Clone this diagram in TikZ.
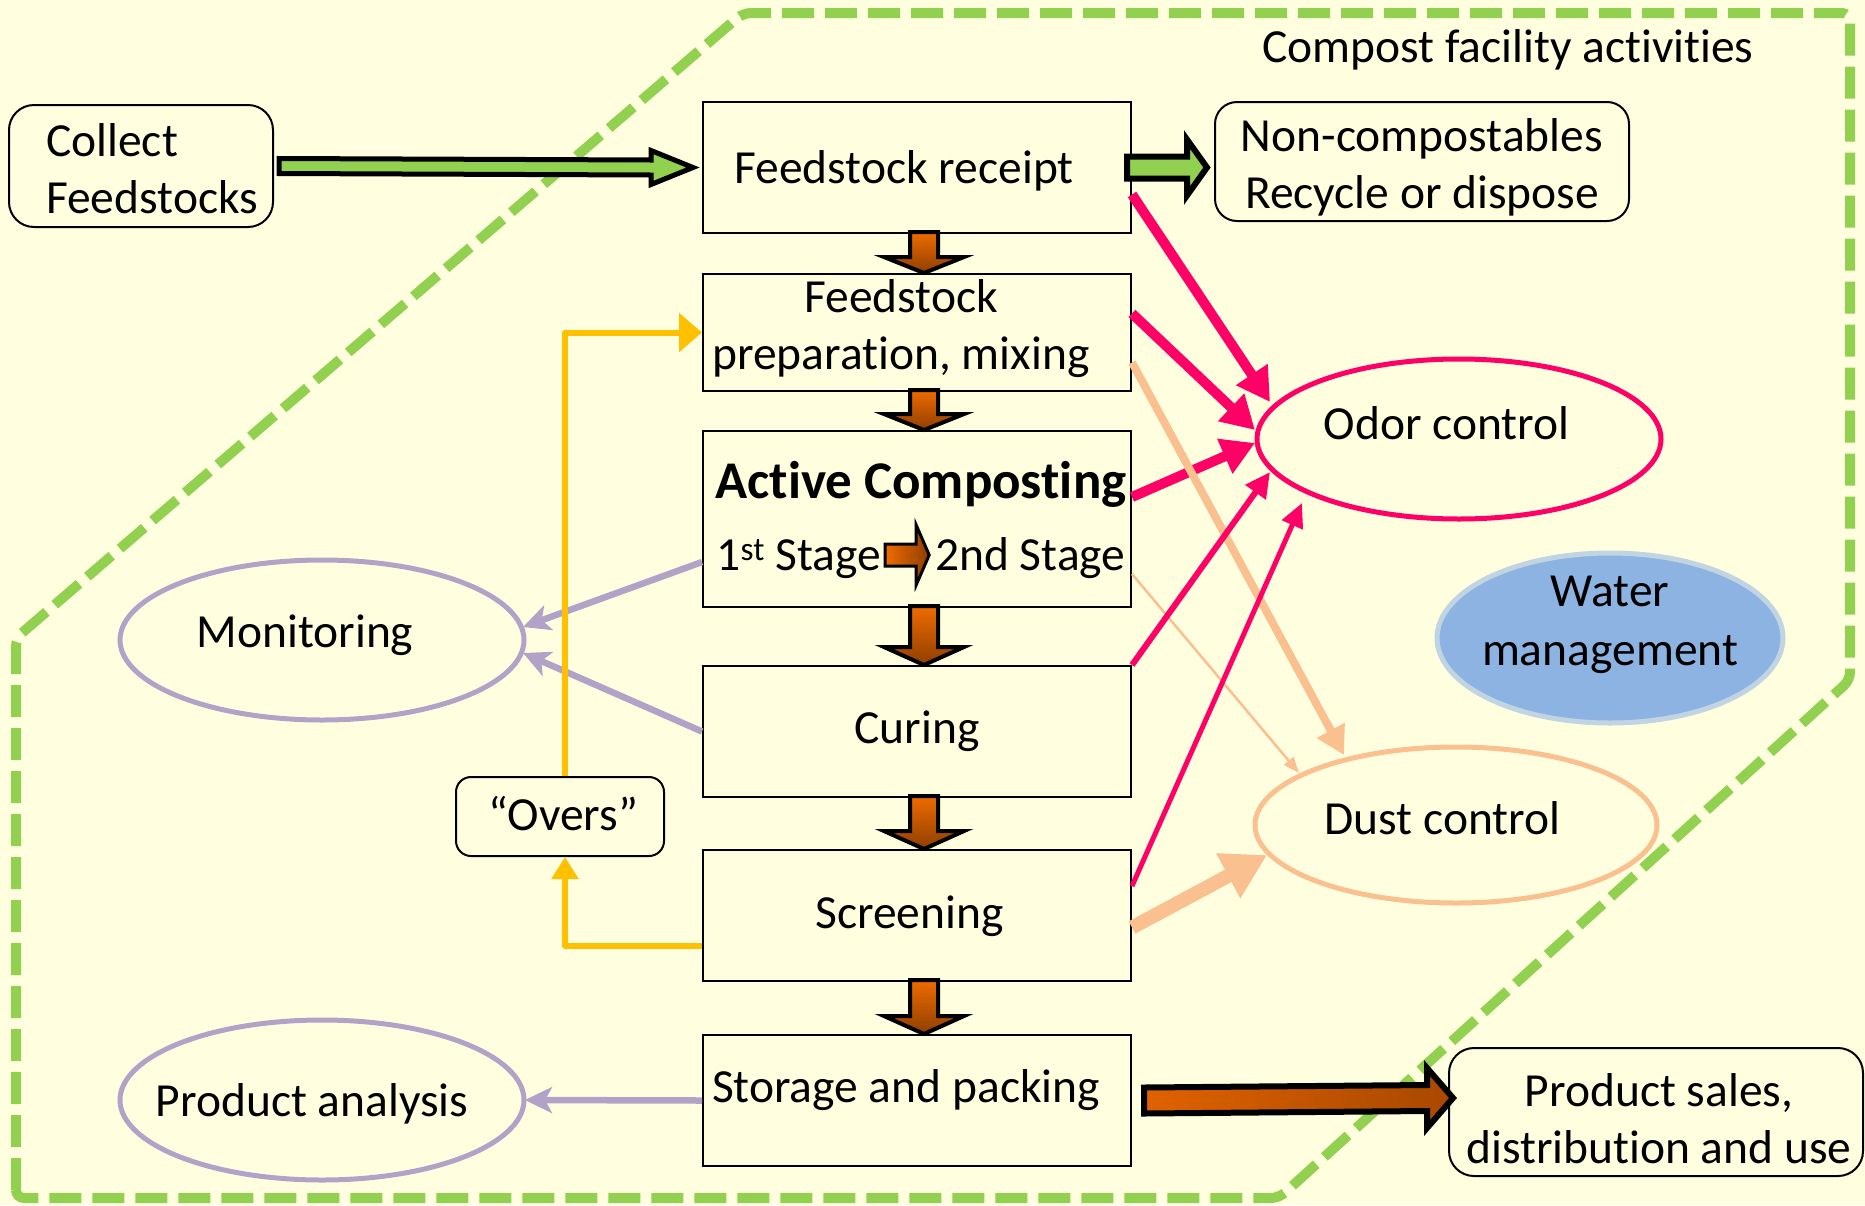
\documentclass[tikz,border=0pt]{standalone}
\usepackage{fontspec}
\setmainfont{Carlito}[Ligatures={TeX,NoCommon}]
\usetikzlibrary{arrows.meta,shapes.geometric,calc}
\definecolor{bgc}{HTML}{FFFFE0}
\definecolor{brd}{HTML}{92D050}
\definecolor{pinkc}{HTML}{FF0066}
\definecolor{peach}{HTML}{FAC090}
\definecolor{purp}{HTML}{B3A2C7}
\definecolor{yel}{HTML}{FFC000}
\definecolor{waterc}{HTML}{8DB3E2}
\definecolor{orgA}{HTML}{EE6C00}
\definecolor{orgB}{HTML}{8F3E00}
\definecolor{brA}{HTML}{E06200}
\definecolor{brB}{HTML}{A84800}
\definecolor{grn}{HTML}{92D050}
% text placed inside a zero-size box: #1 = twice the x shift, #2 = raise of last baseline
\newcommand\mtxt[3]{\makebox[0pt]{\hspace*{#1}\raisebox{#2}[0pt][0pt]{\begin{tabular}[b]{@{}c@{}}#3\end{tabular}}}}
\newcommand\ltxt[3]{\makebox[0pt]{\hspace*{#1}\raisebox{#2}[0pt][0pt]{\begin{tabular}[b]{@{}l@{}}#3\end{tabular}}}}
\newcommand\vblock[3]{%
  \path[blockarrow] let \p1=($(#1.south)+(7,0)$), \p2=(#2.north) in
    (\x1-14pt,\y1+2pt) -- (\x1+14pt,\y1+2pt) -- (\x1+14pt,\y2+#3) -- (\x1+40pt,\y2+#3)
    -- (\x1,\y2) -- (\x1-40pt,\y2+#3) -- (\x1-14pt,\y2+#3) -- cycle;}
\newcommand\hblock[6]{%
  \path[#1] let \p1=(#2), \p2=(#3) in
    (\x1,\y1+#4) -- (\x2-#6,\y2+#4) -- (\x2-#6,\y2+#5) -- (\x2,\y2)
    -- (\x2-#6,\y2-#5) -- (\x2-#6,\y2-#4) -- (\x1,\y1-#4) -- cycle;}
\newcommand\stagearrow{\tikz[baseline=0pt]{\useasboundingbox (0pt,-5pt) rectangle (44pt,30pt);
  \path[draw=black, line width=3pt, left color=orgA, right color=orgB, line join=miter]
   (0pt,4pt) -- (31pt,4pt) -- (31pt,-15pt) -- (44pt,15pt) -- (31pt,45pt) -- (31pt,26pt) -- (0pt,26pt) -- cycle;}}
\tikzset{
  procbox/.style={draw=black, line width=2pt, minimum width=428pt, inner sep=0pt},
  rbox/.style={draw=black, line width=2pt, inner sep=0pt},
  ovalnode/.style={ellipse, line width=5pt, inner sep=0pt, minimum width=404pt, minimum height=160pt},
  blockarrow/.style={draw=black, line width=4pt, top color=orgA, bottom color=orgB, line join=miter},
  greenarrow/.style={draw=black, line width=5pt, fill=grn, line join=miter},
  greenarrowb/.style={draw=black, line width=6pt, fill=grn, line join=miter},
  brownarrow/.style={draw=black, line width=6pt, left color=brA, right color=brB, line join=miter},
  facility/.style={draw=brd, line width=10pt, dash pattern=on 32pt off 11pt, rounded corners=8pt},
  pinkline/.style={draw=pinkc, line cap=butt},
  peachline/.style={draw=peach, line cap=butt},
  purpline/.style={draw=purp, line width=6.5pt, -{Stealth[length=27pt,width=26pt,inset=7pt]}},
  yelline/.style={draw=yel, line width=6pt, line join=round}
}
\begin{document}
\begin{tikzpicture}[x=1pt,y=-1pt,font=\fontsize{47.5}{57}\selectfont]
\useasboundingbox (0,0) rectangle (1865,1205);
\fill[bgc] (0,0) rectangle (1865,1205);
\draw[facility] (16,1198) -- (16,638) -- (743,13) -- (1850,13) -- (1850,680) -- (1279,1198) -- cycle;
\node[anchor=base] (title) at (1508,62) {Compost facility activities};

% process boxes
\node[procbox, minimum height=131pt] (recv) at (917,167.5) {\mtxt{-26pt}{-15.5pt}{Feedstock receipt}};
\node[procbox, minimum height=117pt] (prep) at (917,332.5) {\mtxt{-32pt}{-36.5pt}{Feedstock\\preparation, mixing}};
\node[procbox, minimum height=176pt] (active) at (917,519) {\mtxt{8pt}{-51pt}{{\fontsize{53}{57}\selectfont\bfseries Active Composting}\\[15pt]1\textsuperscript{st} Stage\hspace{4pt}\stagearrow\hspace{6pt}2nd Stage}};
\node[procbox, minimum height=131pt] (curing) at (917,731.5) {\mtxt{0pt}{-11.5pt}{Curing}};
\node[procbox, minimum height=131pt] (screen) at (917,915.5) {\mtxt{-15pt}{-12.5pt}{Screening}};
\node[procbox, minimum height=131pt] (storage) at (917,1100.5) {\mtxt{-22pt}{-1.5pt}{Storage and packing}};

% rounded boxes
\node[rbox, rounded corners=25pt, minimum width=264pt, minimum height=122pt] (collect) at (141,166) {\ltxt{22pt}{-47pt}{Collect\\Feedstocks}};
\node[rbox, rounded corners=22pt, minimum width=414pt, minimum height=119pt] (noncomp) at (1422,161.5) {\mtxt{0pt}{-46.5pt}{Non-compostables\\Recycle or dispose}};
\node[rbox, rounded corners=25pt, minimum width=414pt, minimum height=128pt] (sales) at (1656,1112) {\mtxt{6pt}{-51pt}{Product sales,\\distribution and use}};
\node[rbox, rounded corners=15pt, minimum width=208pt, minimum height=79pt] (overs) at (560,816.5) {\mtxt{6pt}{-13.5pt}{“Overs”}};

% ellipses
\node[ovalnode, draw=purp] (monitor) at (322,640) {\mtxt{-34pt}{-7pt}{Monitoring}};
\node[ovalnode, draw=purp] (panalysis) at (322,1100) {\mtxt{-20pt}{-16pt}{Product analysis}};
\node[ovalnode, draw=pinkc] (odor) at (1459,439) {\mtxt{-25pt}{0pt}{Odor control}};
\node[ovalnode, draw=peach, minimum width=402pt, minimum height=156pt] (dust) at (1456,825) {\mtxt{-27pt}{-9pt}{Dust control}};
\node[ovalnode, fill=waterc, draw=waterc!55!bgc, minimum width=346pt, minimum height=170pt] (water) at (1610,638) {\mtxt{0pt}{-27pt}{Water\\[2pt]management}};

% odor arrows
\draw[pinkline, line width=10pt, -{Triangle[length=33pt,width=36pt]}] ($(recv.east)+(0,27)$) -- ($(odor.center)+(-189,-37)$);
\draw[pinkline, line width=10pt, -{Triangle[length=33pt,width=36pt]}] ($(prep.east)+(0,-19)$) -- ($(odor.center)+(-204,-9)$);
\draw[pinkline, line width=10pt, -{Triangle[length=33pt,width=36pt]}] ($(active.east)+(0,-22)$) -- ($(odor.center)+(-204,4)$);
% dust arrows
\draw[peachline, line width=8pt, -{Triangle[length=28pt,width=30pt]}] ($(prep.east)+(0,30)$) -- ($(dust.center)+(-112,-70)$);
\draw[peachline, line width=2.5pt, -{Triangle[length=16pt,width=12pt]}] ($(active.east)+(0,55)$) -- ($(dust.center)+(-157,-52)$);
\draw[pinkline, line width=6pt, -{Triangle[length=25pt,width=24pt]}] (curing.north east) -- ($(odor.center)+(-189,33)$);
\draw[pinkline, line width=5pt, -{Triangle[length=24pt,width=22pt]}] ($(screen.north east)+(0,37)$) -- ($(odor.center)+(-157,64)$);
\draw[peachline, line width=14pt, -{Triangle[length=44pt,width=48pt]}] ($(screen.east)+(0,12)$) -- ($(dust.center)+(-189,30)$);

% monitoring / analysis
\draw[purpline] ($(active.west)+(0,43)$) -- ($(monitor.center)+(201,-13)$);
\draw[purpline] (curing.west) -- ($(monitor.center)+(201,13)$);
\draw[purpline] (storage.west) -- ($(panalysis.center)+(203,0)$);

% overs loop
\draw[yelline, -{Triangle[length=22pt,width=26pt]}] ($(screen.west)+(0,30)$) -| ($(overs.south)+(5,0)$);
\draw[yelline, -{Triangle[length=23pt,width=38pt]}] ($(overs.north)+(5,0)$) |- (prep.west);

% block arrows
\vblock{recv}{prep}{16pt}
\vblock{prep}{active}{16pt}
\vblock{active}{curing}{18pt}
\vblock{curing}{screen}{18pt}
\vblock{screen}{storage}{18pt}
\hblock{greenarrow}{$(collect.east)+(5,0)$}{$(recv.west)+(-9,0)$}{7.5pt}{17pt}{42pt}
\hblock{greenarrowb}{$(recv.east)+(-5,0)$}{$(noncomp.west |- recv.east)+(-7,0)$}{11pt}{28pt}{20pt}
\hblock{brownarrow}{$(storage.east)+(12,0)$}{$(sales.west)+(5,-14)$}{13pt}{30pt}{26pt}
\end{tikzpicture}
\end{document}
